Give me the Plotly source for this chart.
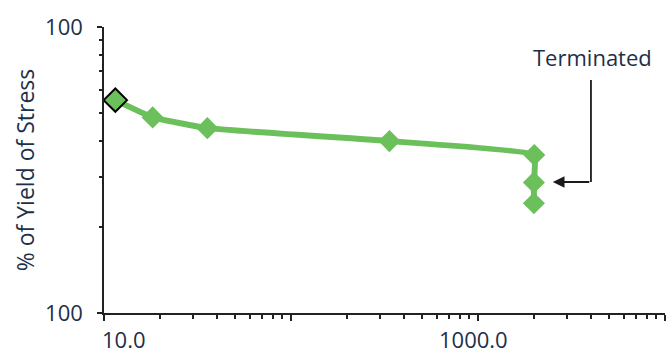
import math
import plotly.graph_objects as go

# Data
cycles = [11.5, 18.2, 35.7, 336, 2000, 1990, 1990]
pct_yield = [55.5, 48.3, 44.3, 39.9, 35.7, 28.6, 24.2]
marker_sizes = [18, 17, 17, 17, 17, 17, 17]
marker_outline = [2, 0, 0, 0, 0, 0, 0]

x_major = [10, 100, 1000, 10000]
x_labels = ["10.0", "1000.0"]
x_label_vals = [10, 1000]
y_major = [10, 100]
y_labels = ["100", "100"]
x_minor = [m * d for d in (10, 100, 1000) for m in range(2, 10)]
y_minor = [m * 10 for m in range(2, 10)]

GREEN = "#6cc05c"
TEXT = "#1d3047"
FONT = "Open Sans"

fig = go.Figure()
fig.add_trace(go.Scatter(
    x=cycles, y=pct_yield, mode="lines+markers",
    line=dict(color=GREEN, width=6, shape="spline", smoothing=0.3),
    marker=dict(symbol="diamond", size=marker_sizes, color=GREEN, opacity=1,
                line=dict(color="black", width=marker_outline)),
    showlegend=False, cliponaxis=False,
))

fig.update_layout(
    width=666, height=355,
    margin=dict(l=104, r=1, t=27, b=42),
    paper_bgcolor="white", plot_bgcolor="white",
    font=dict(family=FONT, size=21, color=TEXT),
    xaxis=dict(
        type="log", range=[1, 4],
        tickmode="array", tickvals=x_major, ticktext=[""] * len(x_major),
        ticks="outside", ticklen=6, tickwidth=1.5, tickcolor="#222",
        showline=True, linecolor="#222", linewidth=1.5,
        showgrid=False, zeroline=False,
        minor=dict(tickmode="array", tickvals=x_minor, ticks="outside",
                   ticklen=4, tickwidth=1.5, tickcolor="#222", showgrid=False),
    ),
    yaxis=dict(
        type="log", range=[1, 2],
        tickmode="array", tickvals=y_major, ticktext=y_labels,
        ticks="outside", ticklen=5, tickwidth=1.5, tickcolor="#222",
        showline=True, linecolor="#222", linewidth=1.5,
        showgrid=False, zeroline=False,
        ticklabelstandoff=10,
        tickfont=dict(size=22, color=TEXT),
        minor=dict(tickmode="array", tickvals=y_minor, ticks="outside",
                   ticklen=3, tickwidth=1.5, tickcolor="#222", showgrid=False),
        title=dict(text="% of Yield of Stress", font=dict(size=23, color=TEXT),
                   standoff=4),
    ),
)

# x tick labels (first label is left-aligned at the axis start)
for i, (v, t) in enumerate(zip(x_label_vals, x_labels)):
    fig.add_annotation(
        x=math.log10(v), y=0, xref="x", yref="paper",
        text=t, showarrow=False,
        xanchor="left" if i == 0 else "center", yanchor="bottom",
        xshift=-4 if i == 0 else -5, yshift=-43,
        font=dict(size=22, color=TEXT),
    )

# Callout
fig.add_annotation(x=0.870, y=0.895, xref="paper", yref="paper",
                   text="Terminated", showarrow=False,
                   xanchor="center", yanchor="middle",
                   font=dict(size=22, color=TEXT))
fig.add_shape(type="line", xref="paper", yref="paper",
              x0=0.868, x1=0.868, y0=0.458, y1=0.815,
              line=dict(color="#1a1a1a", width=1.8))
fig.add_annotation(x=0.800, y=0.458, xref="paper", yref="paper",
                   ax=38, ay=0, text="", showarrow=True,
                   arrowhead=2, arrowsize=1.3, arrowwidth=1.8,
                   arrowcolor="#1a1a1a", standoff=0)

fig.write_html("out.html")
